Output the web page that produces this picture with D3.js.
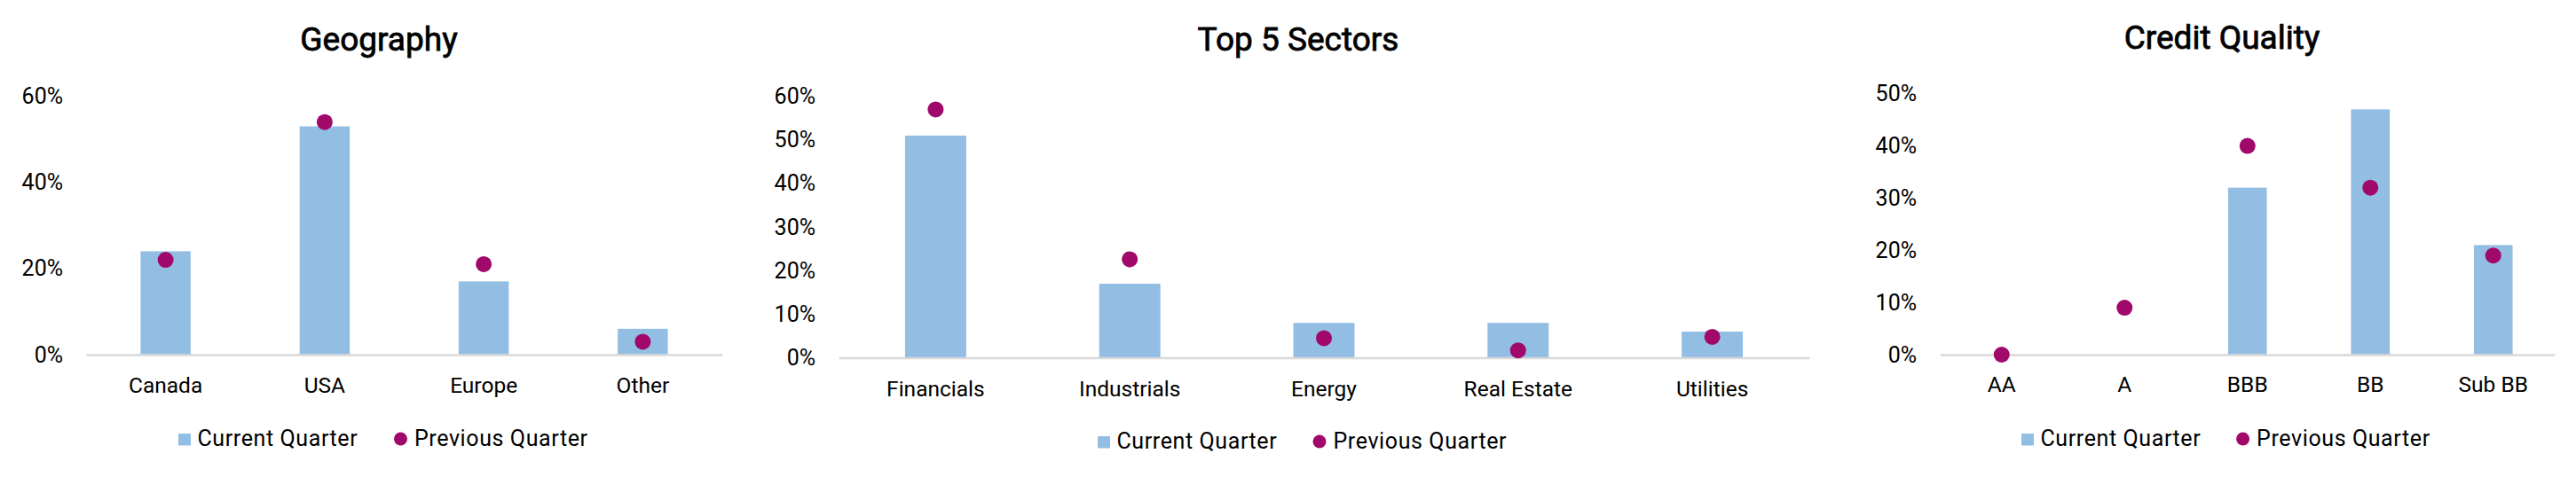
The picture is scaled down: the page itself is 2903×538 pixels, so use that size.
<!DOCTYPE html>
<html>
<head>
<meta charset="utf-8">
<script src="https://cdn.jsdelivr.net/npm/d3@7/dist/d3.min.js"></script>
<style>
  html, body { margin: 0; padding: 0; background: #fff; }
  svg { display: block; }
  text { font-family: Roboto, "DejaVu Sans", sans-serif; fill: #000; }
</style>
</head>
<body>
<svg id="chart" width="2903" height="538"></svg>
<script>
// ---- Data ----
const geoCategories = ["Canada", "USA", "Europe", "Other"];
const geoCurrent = [0.24, 0.53, 0.17, 0.06];
const geoPrevious = [0.22, 0.54, 0.21, 0.03];
const geoTicks = [0, 0.2, 0.4, 0.6];

const sectorCategories = ["Financials", "Industrials", "Energy", "Real Estate", "Utilities"];
const sectorCurrent = [0.51, 0.17, 0.08, 0.08, 0.06];
const sectorPrevious = [0.57, 0.226, 0.045, 0.017, 0.048];
const sectorTicks = [0, 0.1, 0.2, 0.3, 0.4, 0.5, 0.6];

const creditCategories = ["AA", "A", "BBB", "BB", "Sub BB"];
const creditCurrent = [0, 0, 0.32, 0.47, 0.21];
const creditPrevious = [0, 0.09, 0.40, 0.32, 0.19];
const creditTicks = [0, 0.1, 0.2, 0.3, 0.4, 0.5];

const seriesNames = ["Current Quarter", "Previous Quarter"];

// ---- Layout / style ----
const BAR_COLOR = "#93BEE3";
const DOT_COLOR = "#A0086A";
const AXIS_COLOR = "#D9D9D9";

const panels = [
  { title: "Geography", cats: geoCategories, cur: geoCurrent, prev: geoPrevious, ticks: geoTicks,
    x0: 97, x1: 814, yBase: 400, yTop: 108.5, yMax: 0.6, tickX: 71, catY: 443, titleX: 427, titleY: 57,
    legX: 201, legY: 503 , legDotX: 451.5 },
  { title: "Top 5 Sectors", cats: sectorCategories, cur: sectorCurrent, prev: sectorPrevious, ticks: sectorTicks,
    x0: 945, x1: 2039, yBase: 403.5, yTop: 108.7, yMax: 0.6, tickX: 919, catY: 447, titleX: 1463, titleY: 57,
    legX: 1237, legY: 506, legDotX: 1487 },
  { title: "Credit Quality", cats: creditCategories, cur: creditCurrent, prev: creditPrevious, ticks: creditTicks,
    x0: 2186.5, x1: 2879, yBase: 400, yTop: 105.7, yMax: 0.5, tickX: 2160, catY: 442, titleX: 2504, titleY: 55,
    legX: 2278, legY: 503, legDotX: 2527.6 }
];

const svg = d3.select("#chart");
const pct = d3.format(".0%");

panels.forEach(p => {
  const g = svg.append("g");
  const x = d3.scaleBand().domain(p.cats).range([p.x0, p.x1]).paddingInner(0.685).paddingOuter(0.3425);
  const y = d3.scaleLinear().domain([0, p.yMax]).range([p.yBase, p.yTop]);

  // title
  g.append("text")
    .attr("x", p.titleX).attr("y", p.titleY)
    .attr("text-anchor", "middle")
    .style("font-size", "37px").style("font-weight", 400)
    .attr("stroke", "#000").attr("stroke-width", 0.8)
    .text(p.title);

  // y axis (labels only)
  const yAxis = d3.axisLeft(y).tickValues(p.ticks).tickFormat(pct).tickSize(0).tickPadding(0);
  const ya = g.append("g").attr("transform", `translate(${p.tickX},0)`).call(yAxis);
  ya.select(".domain").remove();
  ya.selectAll("text").style("font-size", "25px").attr("fill", "#000").style("font-family", "Roboto");

  // bars
  g.selectAll("rect.bar").data(p.cats).join("rect")
    .attr("class", "bar")
    .attr("x", d => x(d))
    .attr("width", x.bandwidth())
    .attr("y", (d, i) => y(p.cur[i]))
    .attr("height", (d, i) => y(0) - y(p.cur[i]))
    .attr("fill", BAR_COLOR);

  // baseline (x axis)
  const xAxis = d3.axisBottom(x).tickSize(0).tickPadding(0);
  const xa = g.append("g").attr("transform", `translate(0,${y(0)})`).call(xAxis);
  xa.select(".domain").attr("stroke", AXIS_COLOR).attr("stroke-width", 2.5);
  xa.selectAll("text")
    .attr("dy", null)
    .attr("y", p.catY - y(0))
    .style("font-size", "24.5px").attr("fill", "#000").style("font-family", "Roboto");

  // dots
  g.selectAll("circle.dot").data(p.cats).join("circle")
    .attr("class", "dot")
    .attr("cx", d => x(d) + x.bandwidth() / 2)
    .attr("cy", (d, i) => y(p.prev[i]))
    .attr("r", 9)
    .attr("fill", DOT_COLOR);

  // legend
  const lg = g.append("g");
  lg.append("rect").attr("x", p.legX).attr("y", p.legY - 14).attr("width", 14).attr("height", 13.5).attr("fill", BAR_COLOR);
  lg.append("text").attr("x", p.legX + 21.5).attr("y", p.legY)
    .style("font-size", "25px").style("letter-spacing", "0.6px").text(seriesNames[0]);
  lg.append("circle").attr("cx", p.legDotX).attr("cy", p.legY - 8).attr("r", 7.5).attr("fill", DOT_COLOR);
  lg.append("text").attr("x", p.legDotX + 15.5).attr("y", p.legY)
    .style("font-size", "25px").style("letter-spacing", "0.6px").text(seriesNames[1]);
});
</script>
</body>
</html>
